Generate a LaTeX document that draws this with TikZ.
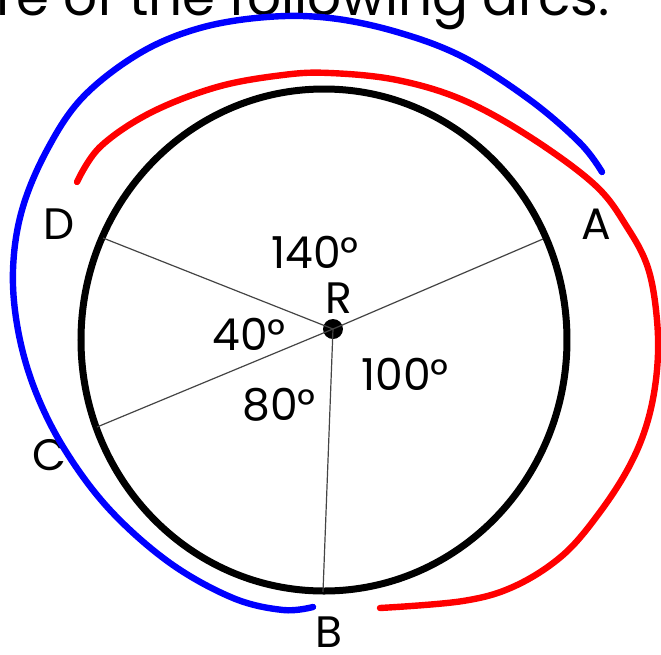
\documentclass[tikz,border=0pt]{standalone}
\usepackage{fontspec}
\setmainfont{Poppins}
\definecolor{penblue}{HTML}{0000FF}
\definecolor{penred}{HTML}{FF0000}
\definecolor{spoke}{HTML}{444444}
\usetikzlibrary{positioning}
\tikzset{
  rim/.style={draw=black, line width=3.5pt},
  radline/.style={draw=spoke, line width=0.6pt},
  arcmark/.style={line width=3.2pt, line cap=round, line join=round},
  ptlbl/.style={font=\fontsize{22}{24}\selectfont, inner sep=0pt},
  deglbl/.style={font=\fontsize{22}{24}\selectfont, inner sep=0pt},
}

\begin{document}
\begin{tikzpicture}[x=0.5pt,y=-0.5pt]
\useasboundingbox (0,0) rectangle (661,655);
\begin{scope}
\clip (0,0) rectangle (661,655);
\node[anchor=base west, font=\fontsize{26.6}{28}\selectfont, inner sep=0pt] (title) at (-4,15) {re of the following arcs:};
\end{scope}
% circle and radii
\draw[rim] (324,340) ellipse [x radius=243, y radius=251];
\node[circle, fill=black, inner sep=0pt, minimum size=10pt] (R) at (333,329) {};
\coordinate (A) at (543,239);
\coordinate (B) at (323,592);
\coordinate (C) at (97,427);
\coordinate (D) at (103,238);
\foreach \p in {A,B,C,D} \draw[radline] (R.center) -- (\p);
% point labels
\node[ptlbl] (labA) at (596,224) {A};
\node[ptlbl] (labB) at (329,632) {B};
\node[ptlbl] (labC) at (49,455) {C};
\node[ptlbl] (labD) at (59,224) {D};
\node[ptlbl] (labR) at (339,298) {R};
% central angles
\node[deglbl] (angAD) at (315,252) {140°};
\node[deglbl] (angDC) at (249,334) {40°};
\node[deglbl] (angCB) at (279,405) {80°};
\node[deglbl] (angBA) at (405,374) {100°};
% hand-drawn arcs
\draw[arcmark, penblue] plot[smooth, tension=0.6] coordinates {(313,607) (283,610) (233,598) (170,563) (110,510) (65,450) (35,390) (18,330) (13,270) (22,210) (47,150) (83,97) (140,53) (200,28) (267,17) (330,18) (397,32) (463,57) (530,100) (580,143) (602,172)};
\draw[arcmark, penred] plot[smooth, tension=0.6] coordinates {(77,182) (100,147) (150,113) (217,87) (283,75) (330,73) (397,80) (463,100) (530,137) (595,185) (627,227) (648,268) (657,320) (657,370) (648,420) (630,465) (600,512) (563,555) (515,586) (463,601) (380,608)};
\end{tikzpicture}
\end{document}
